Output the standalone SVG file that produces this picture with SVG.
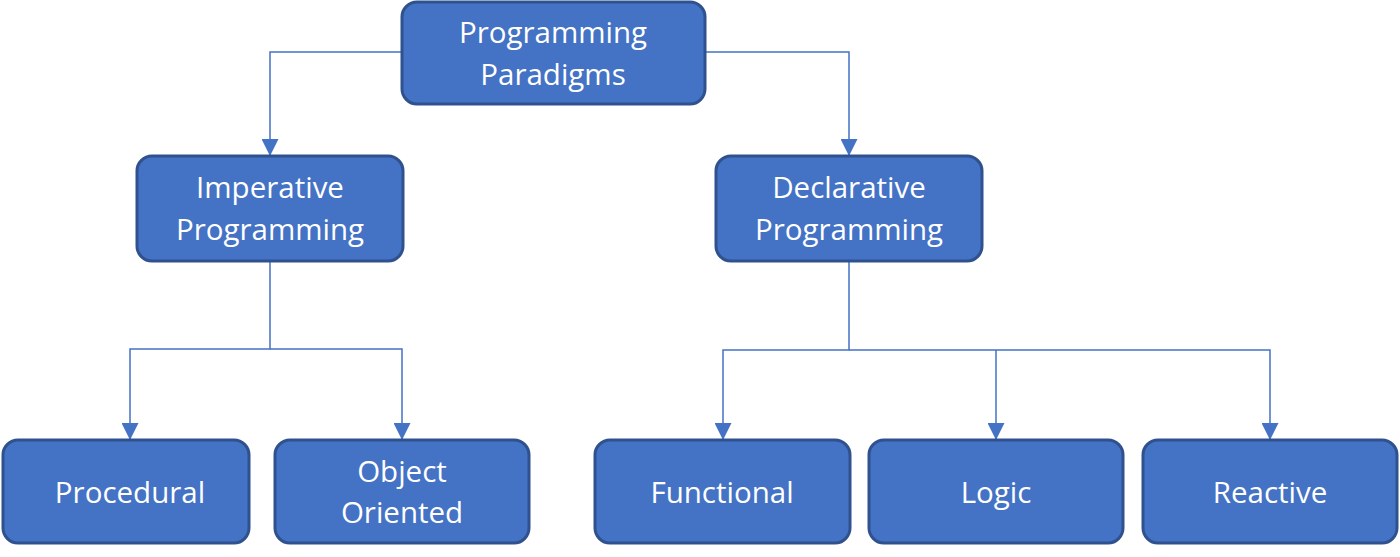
<svg xmlns="http://www.w3.org/2000/svg" width="1400" height="557" viewBox="0 0 1400 557">
<style>
.box{fill:#4472C4;stroke:#2F528F;stroke-width:3}
.lbl{font-family:"Open Sans","Liberation Sans",sans-serif;font-size:29.5px;fill:#ffffff;text-anchor:middle}
.con{fill:none;stroke:#4472C4;stroke-width:1.5}
</style>
<defs>
<marker id="arr" markerWidth="17" markerHeight="17" refX="16" refY="8.5" orient="auto" markerUnits="userSpaceOnUse">
<path d="M0,0 L17,8.5 L0,17 Z" fill="#4472C4"/>
</marker>
</defs>
<rect width="1400" height="557" fill="#ffffff"/>
<g id="connectors">
<path class="con" d="M402,52 H270 V155" marker-end="url(#arr)"/>
<path class="con" d="M705,52 H849 V155" marker-end="url(#arr)"/>
<path class="con" d="M270,261 V349 H130 V439" marker-end="url(#arr)"/>
<path class="con" d="M270,349 H402 V439" marker-end="url(#arr)"/>
<path class="con" d="M849,261 V350 H723 V439" marker-end="url(#arr)"/>
<path class="con" d="M849,350 H1270 V439" marker-end="url(#arr)"/>
<path class="con" d="M996,350 V439" marker-end="url(#arr)"/>
</g>
<g id="node-paradigms">
<rect class="box" x="402" y="2" width="303" height="102" rx="15"/>
<text class="lbl" x="553" y="43">Programming</text>
<text class="lbl" x="553" y="85">Paradigms</text>
</g>
<g id="node-imperative">
<rect class="box" x="137" y="156" width="266" height="105" rx="15"/>
<text class="lbl" x="270" y="198">Imperative</text>
<text class="lbl" x="270" y="240">Programming</text>
</g>
<g id="node-declarative">
<rect class="box" x="716" y="156" width="266" height="105" rx="15"/>
<text class="lbl" x="849" y="198">Declarative</text>
<text class="lbl" x="849" y="240">Programming</text>
</g>
<g id="node-procedural">
<rect class="box" x="3" y="440" width="246" height="103" rx="15"/>
<text class="lbl" x="130" y="503">Procedural</text>
</g>
<g id="node-oo">
<rect class="box" x="275" y="440" width="254" height="103" rx="15"/>
<text class="lbl" x="402" y="482">Object</text>
<text class="lbl" x="402" y="523">Oriented</text>
</g>
<g id="node-functional">
<rect class="box" x="595" y="440" width="255" height="103" rx="15"/>
<text class="lbl" x="722" y="503">Functional</text>
</g>
<g id="node-logic">
<rect class="box" x="869" y="440" width="254" height="103" rx="15"/>
<text class="lbl" x="996" y="503">Logic</text>
</g>
<g id="node-reactive">
<rect class="box" x="1143" y="440" width="254" height="103" rx="15"/>
<text class="lbl" x="1270" y="503">Reactive</text>
</g>
</svg>
